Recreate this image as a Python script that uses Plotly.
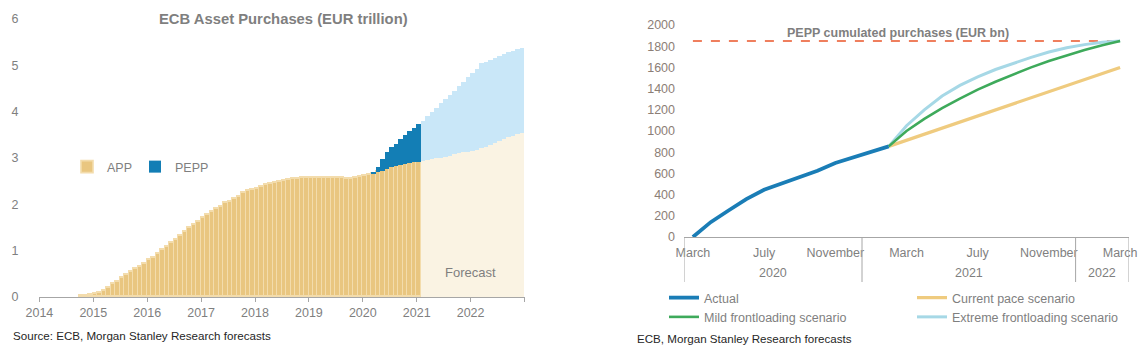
import plotly.graph_objects as go
import pandas as pd

# ---------------- Left chart data (EUR trillion, monthly) ----------------
app_actual_start = "2014-10"
app_actual = [
    0.02, 0.03, 0.04,                                                   # 2014 Oct-Dec
    0.06, 0.09, 0.14, 0.20, 0.27, 0.33, 0.40, 0.47, 0.53, 0.60, 0.65, 0.72,  # 2015
    0.79, 0.85, 0.92, 1.01, 1.08, 1.17, 1.23, 1.31, 1.41, 1.48, 1.55, 1.62,  # 2016
    1.70, 1.77, 1.84, 1.89, 1.95, 2.02, 2.06, 2.11, 2.16, 2.24, 2.29, 2.32,  # 2017
    2.34, 2.38, 2.42, 2.44, 2.46, 2.48, 2.50, 2.53, 2.54, 2.55, 2.56, 2.57,  # 2018
    2.57, 2.57, 2.57, 2.57, 2.57, 2.56, 2.56, 2.56, 2.55, 2.55, 2.56, 2.58,  # 2019
    2.61, 2.63, 2.66, 2.70, 2.73, 2.77, 2.80, 2.83, 2.85, 2.87, 2.89, 2.91,  # 2020
    2.92,                                                               # 2021 Jan
]
pepp_actual_start = "2020-03"
pepp_actual = [0.02, 0.11, 0.25, 0.37, 0.43, 0.48, 0.56, 0.63, 0.69, 0.74, 0.81]

forecast_start = "2021-02"
app_forecast = [
    2.94, 2.95, 2.97, 2.99, 3.01, 3.03, 3.05, 3.08, 3.10, 3.12, 3.14,        # 2021 Feb-Dec
    3.16, 3.17, 3.21, 3.24, 3.29, 3.33, 3.37, 3.41, 3.45, 3.48, 3.52, 3.55,  # 2022
]
pepp_forecast = [
    0.86, 0.95, 1.02, 1.10, 1.18, 1.25, 1.32, 1.37, 1.46, 1.53, 1.60,
    1.68, 1.76, 1.83, 1.83, 1.83, 1.83, 1.83, 1.83, 1.83, 1.83, 1.83, 1.83,
]
left_years = [2014, 2015, 2016, 2017, 2018, 2019, 2020, 2021, 2022, 2023]
left_yticks = [0, 1, 2, 3, 4, 5, 6]

# ---------------- Right chart data (EUR bn, monthly) ----------------
pepp_months = [
    "2020-03", "2020-04", "2020-05", "2020-06", "2020-07", "2020-08", "2020-09",
    "2020-10", "2020-11", "2020-12", "2021-01", "2021-02", "2021-03", "2021-04",
    "2021-05", "2021-06", "2021-07", "2021-08", "2021-09", "2021-10", "2021-11",
    "2021-12", "2022-01", "2022-02", "2022-03",
]
actual = [0, 140, 250, 357, 445, 502, 560, 625, 698, 752, 805, 855]
scenario_start = "2021-02"
current_pace = [855, 912, 970, 1027, 1084, 1141, 1198, 1256, 1313, 1370, 1427, 1484, 1541, 1600]
mild_frontloading = [855, 1000, 1115, 1215, 1305, 1390, 1465, 1535, 1600, 1660, 1715, 1765, 1810, 1850]
extreme_frontloading = [855, 1050, 1200, 1330, 1430, 1510, 1580, 1640, 1695, 1745, 1785, 1815, 1838, 1850]
pepp_envelope = 1850
right_tick_months = ["2020-03", "2020-07", "2020-11", "2021-03", "2021-07", "2021-11", "2022-03"]
right_yticks = [0, 200, 400, 600, 800, 1000, 1200, 1400, 1600, 1800, 2000]

# ---------------- helpers ----------------
W, H = 1146, 350
FONT = "Liberation Sans, Arial, sans-serif"
GREY = "#7F7F7F"
AXIS = "#A6A6A6"


def px_x(p):
    return p / W


def px_y(p):
    return (H - p) / H


def month_x(start, n):
    per = pd.period_range(start, periods=n, freq="M")
    return [d.year + (d.month - 0.5) / 12 for d in per]


month_names = {3: "March", 7: "July", 11: "November"}
idx = {m: i for i, m in enumerate(pepp_months)}
scen_i0 = idx[scenario_start]

fig = go.Figure()

# ---- left: stacked monthly bars ----
bw = 1 / 12
fig.add_trace(go.Bar(
    x=month_x(app_actual_start, len(app_actual)), y=app_actual, width=bw,
    name="APP", marker=dict(color="#E9C680", line=dict(color="#F3DCAC", width=1.6)),
    xaxis="x", yaxis="y", legend="legend", hoverinfo="skip"))
fig.add_trace(go.Bar(
    x=month_x(pepp_actual_start, len(pepp_actual)), y=pepp_actual, width=bw,
    name="PEPP", marker=dict(color="#137EB5", line=dict(width=0)),
    xaxis="x", yaxis="y", legend="legend4", hoverinfo="skip"))
fig.add_trace(go.Bar(
    x=month_x(forecast_start, len(app_forecast)), y=app_forecast, width=bw,
    name="APP forecast", marker=dict(color="#FAF3E3", line=dict(width=0)),
    xaxis="x", yaxis="y", showlegend=False, hoverinfo="skip"))
fig.add_trace(go.Bar(
    x=month_x(forecast_start, len(pepp_forecast)), y=pepp_forecast, width=bw,
    name="PEPP forecast", marker=dict(color="#C9E7F8", line=dict(width=0)),
    xaxis="x", yaxis="y", showlegend=False, hoverinfo="skip"))

# ---- right: lines ----
xi_all = list(range(len(pepp_months)))
fig.add_trace(go.Scatter(
    x=xi_all, y=[pepp_envelope] * len(pepp_months), mode="lines",
    line=dict(color="#EF7F5E", width=2, dash="dash"), showlegend=False,
    xaxis="x2", yaxis="y2", hoverinfo="skip"))
scen_x = list(range(scen_i0, scen_i0 + len(current_pace)))
fig.add_trace(go.Scatter(
    x=scen_x, y=current_pace, mode="lines", name="Current pace scenario",
    line=dict(color="#EFCB7F", width=3.2), xaxis="x2", yaxis="y2", legend="legend3"))
fig.add_trace(go.Scatter(
    x=scen_x, y=extreme_frontloading, mode="lines", name="Extreme frontloading scenario",
    line=dict(color="#A6D8E6", width=3), xaxis="x2", yaxis="y2", legend="legend3"))
fig.add_trace(go.Scatter(
    x=scen_x, y=mild_frontloading, mode="lines", name="Mild frontloading scenario",
    line=dict(color="#3EAA5B", width=2.6), xaxis="x2", yaxis="y2", legend="legend2"))
fig.add_trace(go.Scatter(
    x=list(range(len(actual))), y=actual, mode="lines", name="Actual",
    line=dict(color="#1A7DB6", width=3.8), xaxis="x2", yaxis="y2", legend="legend2"))

# ---- right axis dividers & year labels ----
years_r = [m[:4] for m in pepp_months]
bounds = [-0.5] + [i - 0.5 for i in range(1, len(years_r)) if years_r[i] != years_r[i - 1]] + [len(years_r) - 0.5]
shapes = []
for b in bounds:
    shapes.append(dict(type="line", xref="x2", yref="paper", x0=b, x1=b,
                       y0=px_y(237), y1=px_y(282), line=dict(color=AXIS, width=1)))
annotations = []
for y in sorted(set(years_r)):
    members = [i for i, v in enumerate(years_r) if v == y]
    annotations.append(dict(x=sum(members) / len(members), y=px_y(273), xref="x2", yref="paper",
                            xanchor="center", yanchor="middle",
                            text=y, showarrow=False, font=dict(size=12.5, color=GREY, family=FONT)))

annotations += [
    dict(x=px_x(283), y=px_y(19), xref="paper", yref="paper", xanchor="center", yanchor="middle",
         text="<b>ECB Asset Purchases (EUR trillion)</b>",
         showarrow=False, font=dict(size=14.8, color=GREY, family=FONT)),
    dict(x=2022.0, y=0.52, xref="x", yref="y", xanchor="center", yanchor="middle",
         text="Forecast", showarrow=False,
         font=dict(size=13, color=GREY, family=FONT)),
    dict(x=px_x(898), y=px_y(33), xref="paper", yref="paper", xanchor="center", yanchor="middle",
         text="<b>PEPP cumulated purchases (EUR bn)</b>",
         showarrow=False, font=dict(size=12.5, color=GREY, family=FONT)),
    dict(x=px_x(11), y=px_y(335), xref="paper", yref="paper", xanchor="left", yanchor="middle",
         text="Source: ECB, Morgan Stanley Research forecasts", showarrow=False,
         font=dict(size=11.6, color="#262626", family=FONT)),
    dict(x=px_x(635), y=px_y(338), xref="paper", yref="paper", xanchor="left", yanchor="middle",
         text="ECB, Morgan Stanley Research forecasts", showarrow=False,
         font=dict(size=11.6, color="#262626", family=FONT)),
]

tick_idx = [idx[m] for m in right_tick_months]
tick_txt = [month_names[int(m[5:])] for m in right_tick_months]

legend_font = dict(size=12.5, color=GREY, family=FONT)
leg_common = dict(bgcolor="rgba(0,0,0,0)", font=legend_font, tracegroupgap=0, itemwidth=30)
fig.update_layout(
    width=W, height=H, margin=dict(l=0, r=0, t=0, b=0, autoexpand=False),
    paper_bgcolor="white", plot_bgcolor="white",
    barmode="stack", bargap=0,
    font=dict(family=FONT, color=GREY, size=12),
    xaxis=dict(domain=[px_x(39.4), px_x(524.5)], range=[2014, 2023], anchor="y",
               tickvals=left_years, ticktext=[str(y) for y in left_years[:-1]] + [""],
               ticks="outside", ticklen=4, tickcolor=AXIS, showline=True, linecolor=AXIS,
               showgrid=False, zeroline=False, tickfont=dict(size=12.5, color=GREY)),
    yaxis=dict(domain=[px_y(297), px_y(19)], range=[0, 6], anchor="x", tickvals=left_yticks,
               showgrid=False, zeroline=False, showline=False, ticks="",
               ticklabelstandoff=20, tickfont=dict(size=12.5, color=GREY)),
    xaxis2=dict(domain=[px_x(684), px_x(1129)], range=[-0.5, len(pepp_months) - 0.5], anchor="y2",
                tickvals=tick_idx, ticktext=tick_txt, ticks="", showline=True, linecolor=AXIS,
                showgrid=False, zeroline=False, ticklabelstandoff=4, tickfont=dict(size=12.5, color=GREY)),
    yaxis2=dict(domain=[px_y(237), px_y(25)], range=[0, 2000], anchor="x2", tickvals=right_yticks,
                showgrid=False, zeroline=False, showline=False, ticks="",
                ticklabelstandoff=8, tickfont=dict(size=12.5, color="#8C7E76")),
    legend=dict(orientation="v", x=px_x(67), y=px_y(152), xanchor="left", yanchor="top", **leg_common),
    legend4=dict(orientation="v", x=px_x(135), y=px_y(152), xanchor="left", yanchor="top", **leg_common),
    legend2=dict(orientation="v", x=px_x(664), y=px_y(283), xanchor="left", yanchor="top",
                 traceorder="reversed", **leg_common),
    legend3=dict(orientation="v", x=px_x(912), y=px_y(283), xanchor="left", yanchor="top",
                 traceorder="normal", **leg_common),
    shapes=shapes, annotations=annotations,
)

fig.write_html("out.html")
